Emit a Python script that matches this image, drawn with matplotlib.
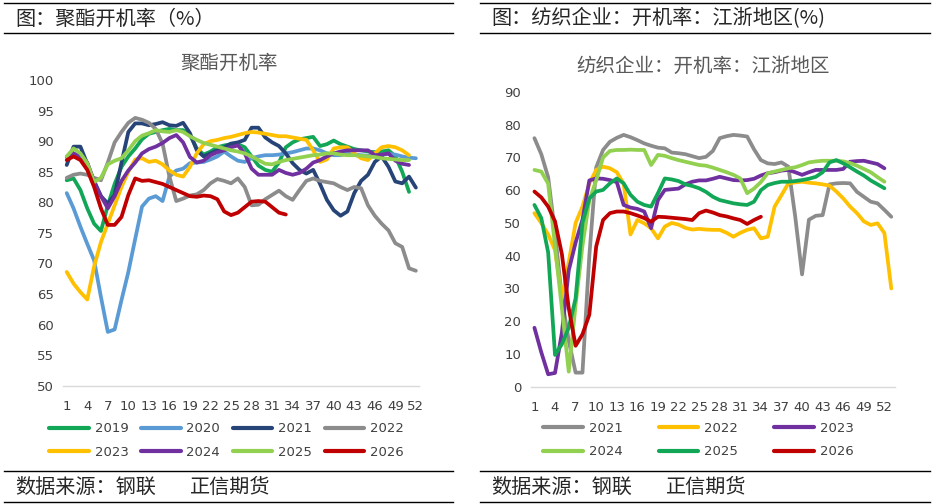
import matplotlib
matplotlib.use("Agg")
import matplotlib.pyplot as plt
from matplotlib.lines import Line2D

plt.rcParams['font.family'] = ['DejaVu Sans', 'Noto Sans CJK SC']
CJK = ['Noto Sans CJK SC', 'DejaVu Sans']

# ---------------- data: left chart (聚酯开机率) ----------------
left_years = ['2019', '2020', '2021', '2022', '2023', '2024', '2025', '2026']
left_tick_weeks = list(range(1, 53, 3))

p2019 = [83.6, 83.9, 82.0, 79.0, 76.5, 75.3, 79.5, 83.0, 85.8, 87.5, 88.8, 90.3, 91.2, 91.5, 91.8, 92.0,
         91.8, 91.8, 91.0, 88.8, 87.8, 88.3, 89.0, 89.3, 89.5, 89.5, 89.0, 87.5, 86.0, 85.3, 85.0, 86.5,
         89.0, 89.8, 90.3, 90.5, 90.7, 89.2, 89.5, 90.1, 89.5, 89.1, 88.7, 88.5, 88.3, 88.2, 88.3, 88.5,
         87.5, 85.0, 81.7]
p2020 = [81.5, 79.0, 76.0, 73.2, 70.5, 64.5, 58.8, 59.2, 64.0, 68.6, 74.0, 79.3, 80.6, 81.0, 80.2, 84.2,
         85.2, 85.5, 86.4, 86.5, 86.6, 87.0, 87.5, 88.3, 87.5, 86.8, 86.6, 87.2, 87.5, 87.7, 87.7, 87.8,
         88.0, 88.2, 88.5, 88.8, 88.8, 88.5, 88.0, 87.7, 87.7, 88.0, 87.8, 87.7, 87.6, 87.6, 87.8, 87.9,
         87.8, 87.5, 87.3, 87.2]
p2021 = [86.1, 89.1, 89.1, 86.3, 83.5, 81.0, 79.8, 81.2, 86.5, 91.5, 92.9, 92.9, 92.6, 92.8, 93.1, 92.6,
         92.5, 93.0, 91.3, 88.5, 87.5, 88.0, 88.5, 89.0, 89.6, 89.8, 90.2, 92.2, 92.2, 90.6, 89.8, 89.2,
         88.0, 86.4, 85.3, 84.7, 85.3, 83.0, 80.4, 78.7, 77.8, 78.5, 81.5, 83.5, 84.5, 86.6, 87.5, 85.8,
         83.4, 83.1, 84.2, 82.4]
p2022 = [84.0, 84.5, 84.7, 84.5, 84.0, 83.6, 86.5, 89.8, 91.5, 93.0, 93.8, 93.5, 93.0, 92.0, 89.6, 84.2,
         80.2, 80.6, 81.1, 81.3, 82.0, 83.1, 83.8, 83.5, 83.1, 83.9, 82.5, 79.5, 79.6, 80.5, 81.2, 81.9,
         81.0, 80.4, 82.0, 83.5, 83.9, 83.5, 83.3, 83.1, 82.5, 82.0, 82.5, 82.3, 79.5, 77.8, 76.5, 75.4,
         73.3, 72.7, 69.2, 68.8]
p2023 = [68.6, 66.7, 65.3, 64.1, 69.5, 73.5, 76.5, 79.5, 82.5, 85.0, 87.0, 87.2, 86.6, 86.8, 86.2, 85.2,
         84.5, 84.2, 85.8, 88.0, 89.5, 90.0, 90.2, 90.5, 90.7, 91.0, 91.3, 91.5, 91.4, 91.2, 91.0, 90.8,
         90.8, 90.6, 90.4, 90.2, 88.5, 86.6, 87.0, 88.8, 89.0, 89.0, 88.0, 87.2, 86.9, 88.0, 89.0, 89.2,
         89.0, 88.5, 87.7]
p2024 = [87.4, 88.0, 87.5, 86.5, 83.3, 81.0, 79.0, 81.0, 83.5, 85.2, 86.5, 88.0, 88.7, 89.1, 89.7, 90.5,
         91.0, 89.8, 87.4, 86.5, 86.8, 87.7, 88.2, 88.5, 89.0, 89.3, 88.0, 85.5, 84.5, 84.5, 84.5, 85.3,
         84.8, 84.5, 84.8, 85.5, 86.5, 86.9, 87.5, 88.0, 88.3, 88.5, 88.5, 88.5, 88.5, 87.7, 87.8, 88.0,
         86.8, 86.3, 86.1]
p2025 = [87.5, 88.8, 88.0, 86.4, 83.3, 84.0, 86.2, 86.8, 87.2, 88.5, 90.0, 90.9, 91.3, 91.8, 91.6, 91.5,
         91.8, 91.5, 90.8, 90.2, 89.7, 89.4, 89.1, 88.8, 88.5, 88.3, 88.0, 87.5, 86.9, 86.3, 86.2, 86.6,
         86.9, 87.1, 87.3, 87.5, 87.7, 87.8, 88.0, 88.0, 87.8, 87.7, 87.7, 87.6, 87.5, 87.4, 87.2, 87.1,
         87.0, 86.9, 86.9]
p2026 = [86.9, 87.5, 86.9, 85.3, 82.5, 79.0, 76.3, 76.3, 77.6, 81.2, 83.9, 83.5, 83.6, 83.3, 83.0, 82.5,
         82.0, 81.5, 81.0, 80.9, 81.1, 81.0, 80.5, 78.5, 77.9, 78.3, 79.2, 80.1, 80.2, 80.1, 79.2, 78.3,
         78.0]
left_series = [p2019, p2020, p2021, p2022, p2023, p2024, p2025, p2026]

# ---------------- data: right chart (纺织企业开机率 江浙地区) ----------------
right_years = ['2021', '2022', '2023', '2024', '2025', '2026']
right_tick_weeks = list(range(1, 53, 3))

t2021 = [75.9, 71.0, 64.0, 47.0, 27.0, 14.0, 4.3, 4.3, 40.0, 67.0, 72.3, 74.8, 76.0, 76.9, 76.2, 75.3,
         74.3, 73.6, 73.0, 72.8, 71.5, 71.3, 71.0, 70.4, 69.8, 70.2, 72.0, 75.9, 76.5, 76.9, 76.7, 76.4,
         72.5, 69.2, 68.2, 68.0, 68.5, 67.2, 52.0, 34.3, 51.0, 52.2, 52.4, 61.8, 62.1, 62.2, 62.1, 59.5,
         58.0, 56.5, 56.0, 54.0, 51.9]
t2022 = [53.0, 50.0, 46.5, 41.7, 27.0, 38.0, 50.0, 55.0, 62.0, 66.2, 67.2, 66.7, 65.5, 62.0, 46.5, 50.9,
         49.9, 48.4, 45.3, 48.9, 50.0, 49.5, 48.5, 48.0, 48.2, 48.0, 47.9, 47.9, 47.0, 45.8, 47.0, 47.9,
         48.4, 45.3, 45.8, 55.0, 58.5, 62.1, 62.4, 62.6, 62.3, 62.1, 61.8, 61.4, 59.6, 57.5, 55.0, 53.0,
         50.5, 49.4, 49.9, 46.9, 30.0]
t2023 = [18.0, 10.5, 3.8, 4.2, 16.5, 35.5, 44.0, 51.0, 63.0, 63.6, 63.5, 63.1, 62.5, 55.5, 54.7, 54.3,
         53.5, 48.4, 57.0, 60.1, 60.3, 60.5, 61.8, 62.6, 63.0, 63.0, 63.5, 64.1, 63.6, 63.1, 63.0, 63.1,
         63.5, 64.5, 65.2, 65.5, 66.0, 66.2, 65.5, 64.7, 65.5, 66.2, 66.2, 66.2, 66.2, 66.5, 68.7, 68.9,
         69.0, 68.5, 68.0, 66.7]
t2024 = [66.2, 65.7, 62.0, 43.0, 24.0, 4.6, 25.0, 43.0, 57.0, 63.0, 70.0, 72.0, 72.3, 72.3, 72.4, 72.3,
         72.3, 67.7, 70.8, 70.5, 69.8, 69.2, 68.7, 68.2, 67.7, 67.5, 66.9, 66.2, 65.5, 64.7, 63.6, 59.1,
         60.5, 62.5, 65.2, 65.7, 66.2, 66.7, 67.0, 67.7, 68.5, 68.8, 69.0, 69.0, 69.0, 68.8, 68.3, 67.5,
         66.5, 65.5, 64.0, 62.6]
t2025 = [55.5, 51.5, 41.0, 9.7, 13.0, 18.0, 27.0, 50.0, 57.5, 59.6, 60.1, 62.1, 63.6, 62.1, 58.6, 56.5,
         55.5, 55.0, 59.1, 63.6, 63.3, 62.8, 61.8, 61.3, 60.6, 59.5, 58.0, 57.0, 56.5, 56.0, 55.7, 55.5,
         56.5, 60.0, 61.6, 62.2, 62.6, 62.6, 62.8, 63.1, 63.5, 64.1, 65.5, 68.5, 69.2, 68.2, 67.0, 65.7,
         64.5, 63.0, 61.8, 60.6]
t2026 = [59.6, 57.8, 55.0, 50.5, 40.5, 24.0, 12.5, 16.0, 22.0, 42.8, 50.9, 53.0, 53.5, 53.5, 53.0, 52.3,
         51.5, 50.4, 51.9, 51.8, 51.6, 51.4, 51.2, 50.9, 53.0, 53.8, 53.2, 52.4, 52.0, 51.4, 50.9, 49.7,
         50.9, 51.9]
right_series = [t2021, t2022, t2023, t2024, t2025, t2026]

# ---------------- styling ----------------
C_GREEN = '#12A657'
C_LBLUE = '#5B9BD5'
C_NAVY = '#264478'
C_GRAY = '#8C8C8C'
C_YELLOW = '#FFC000'
C_PURPLE = '#7030A0'
C_LGREEN = '#92D050'
C_RED = '#C00000'
left_colors = [C_GREEN, C_LBLUE, C_NAVY, C_GRAY, C_YELLOW, C_PURPLE, C_LGREEN, C_RED]
right_colors = [C_GRAY, C_YELLOW, C_PURPLE, C_LGREEN, C_GREEN, C_RED]

W, H = 936, 504
fig = plt.figure(figsize=(W / 100, H / 100), dpi=100)
fig.patch.set_facecolor('white')


def fx(x):
    return x / W


def fy(y):
    return 1 - y / H


def hline(x0, x1, y, lw=1.0):
    fig.add_artist(Line2D([fx(x0), fx(x1)], [fy(y), fy(y)], color='black', lw=lw))


TXT = '#404040'
LW = 2.7


def style_axes(ax, xmax, ticks):
    for s in ['top', 'right', 'left']:
        ax.spines[s].set_visible(False)
    ax.spines['bottom'].set_color('#D9D9D9')
    ax.spines['bottom'].set_linewidth(1.0)
    ax.set_xlim(0.5, xmax + 0.5)
    ax.set_xticks(ticks)
    ax.set_xticklabels([str(t) for t in ticks])
    ax.tick_params(axis='both', length=0, labelsize=9.5, labelcolor=TXT)
    ax.tick_params(axis='x', pad=10)
    ax.tick_params(axis='y', pad=7)


# ----- left chart -----
axL = fig.add_axes([fx(63.3), fy(385.7), fx(419.3) - fx(63.3), fy(80) - fy(385.7)])
hL = []
for yr, vals, col in zip(left_years, left_series, left_colors):
    ln, = axL.plot(range(1, len(vals) + 1), vals, color=col, lw=LW, solid_joinstyle='round',
                   solid_capstyle='round', label=yr)
    hL.append(ln)
style_axes(axL, 52, left_tick_weeks)
axL.set_ylim(50, 100)
axL.set_yticks(range(50, 101, 5))

# ----- right chart -----
axR = fig.add_axes([fx(531), fy(386.7), fx(894.7) - fx(531), fy(92) - fy(386.7)])
hR = []
for yr, vals, col in zip(right_years, right_series, right_colors):
    ln, = axR.plot(range(1, len(vals) + 1), vals, color=col, lw=LW, solid_joinstyle='round',
                   solid_capstyle='round', label=yr)
    hR.append(ln)
style_axes(axR, 53, right_tick_weeks)
axR.set_ylim(0, 90)
axR.set_yticks(range(0, 91, 10))

# ----- legends (row-wise order like the source) -----
fs_leg = 9.5
ordL = [0, 4, 1, 5, 2, 6, 3, 7]
legL = fig.legend([hL[i] for i in ordL], [left_years[i] for i in ordL], ncol=4,
                  loc='upper left', bbox_to_anchor=(fx(49), fy(422.5)), frameon=False,
                  fontsize=fs_leg, handlelength=3.0, handletextpad=0.45, columnspacing=0.95,
                  labelspacing=0.8, borderpad=0, borderaxespad=0)
ordR = [0, 3, 1, 4, 2, 5]
legR = fig.legend([hR[i] for i in ordR], [right_years[i] for i in ordR], ncol=3,
                  loc='upper left', bbox_to_anchor=(fx(543), fy(422)), frameon=False,
                  fontsize=fs_leg, handlelength=3.0, handletextpad=0.45, columnspacing=2.75,
                  labelspacing=0.78, borderpad=0, borderaxespad=0)
for lg in (legL, legR):
    for t in lg.get_texts():
        t.set_color(TXT)
    for l in lg.get_lines():
        l.set_linewidth(3.0)

# ----- headers, titles, source -----
hline(4, 453, 3.3)
hline(4, 453, 33.3)
hline(4, 453, 470.7)
hline(4, 453, 501.7)
hline(480, 930, 3.3)
hline(480, 930, 33.3)
hline(480, 930, 470.7)
hline(480, 930, 501.7)

FS_HEAD = 14.5
fig.text(fx(15), fy(19), '图：聚酯开机率（%）', family=CJK, fontsize=FS_HEAD, color='#262626',
         ha='left', va='center')
fig.text(fx(491), fy(19), '图：纺织企业：开机率：江浙地区(%)', family=CJK, fontsize=FS_HEAD,
         color='#262626', ha='left', va='center')
fig.text(fx(229), fy(63), '聚酯开机率', family=CJK, fontsize=14, color='#595959',
         ha='center', va='center')
fig.text(fx(703.5), fy(66), '纺织企业：开机率：江浙地区', family=CJK, fontsize=14,
         color='#595959', ha='center', va='center')

for x0, x1 in ((15, 190), (491, 666)):
    fig.text(fx(x0), fy(487), '数据来源：钢联', family=CJK, fontsize=FS_HEAD, color='#262626',
             ha='left', va='center')
    fig.text(fx(x1), fy(487), '正信期货', family=CJK, fontsize=FS_HEAD, color='#262626',
             ha='left', va='center')

fig.savefig('out.png', dpi=100, facecolor='white')
